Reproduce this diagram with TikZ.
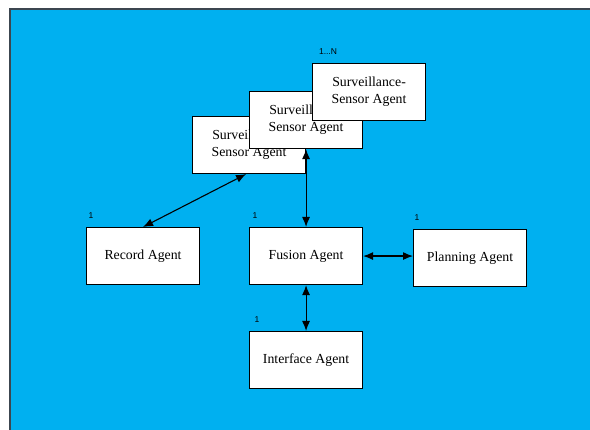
\documentclass[tikz,border=0pt]{standalone}
\usepackage{fontspec}
\setmainfont{Liberation Serif}
\newfontfamily\labelfont{Liberation Sans}
\usetikzlibrary{arrows.meta}
\definecolor{bgblue}{RGB}{0,176,240}
\definecolor{frame}{RGB}{60,70,80}
\tikzset{
  x=1pt, y=-1pt,
  agentbox/.style={draw=black, line width=1.1pt, fill=white, anchor=north west,
    minimum width=113pt, minimum height=57pt, inner sep=0pt, align=center,
    font=\fontsize{13.8}{17}\selectfont},
  mult/.style={font=\labelfont\fontsize{8.5}{10}\selectfont, inner sep=0pt},
  link/.style={line width=1.1pt, {Latex[length=10pt,width=8pt]}-{Latex[length=10pt,width=8pt]}}
}
\begin{document}
\begin{tikzpicture}
\useasboundingbox (0,0) rectangle (590,430);
\fill[bgblue] (10,9) rectangle (590,430);
\draw[frame, line width=1.2pt] (10,430) -- (10,9) -- (590,9);

\node[agentbox] (s1) at (192,116) {Surveillance-\\Sensor Agent};
\node[agentbox] (s2) at (249,91) {Surveillance-\\Sensor Agent};
\node[agentbox] (s3) at (312,63) {Surveillance-\\Sensor Agent};
\node[agentbox] (rec) at (86,227) {Record Agent};
\node[agentbox] (fus) at (249,227) {Fusion Agent};
\node[agentbox] (plan) at (413,229) {Planning Agent};
\node[agentbox] (int) at (249,331) {Interface Agent};

\node[mult] (mN) at (328,52) {1...N};
\node[mult] (mrec) at (91,216) {1};
\node[mult] (mfus) at (255,216) {1};
\node[mult] (mplan) at (417,218) {1};
\node[mult] (mint) at (257,320) {1};

\draw[link] (rec.north) -- ([xshift=-3pt]s1.south);
\draw[link] (fus.north) -- (s2.south);
\draw[link] (fus.east) -- (fus.east -| plan.west);
\draw[link] (fus.south) -- (int.north);
\end{tikzpicture}
\end{document}
